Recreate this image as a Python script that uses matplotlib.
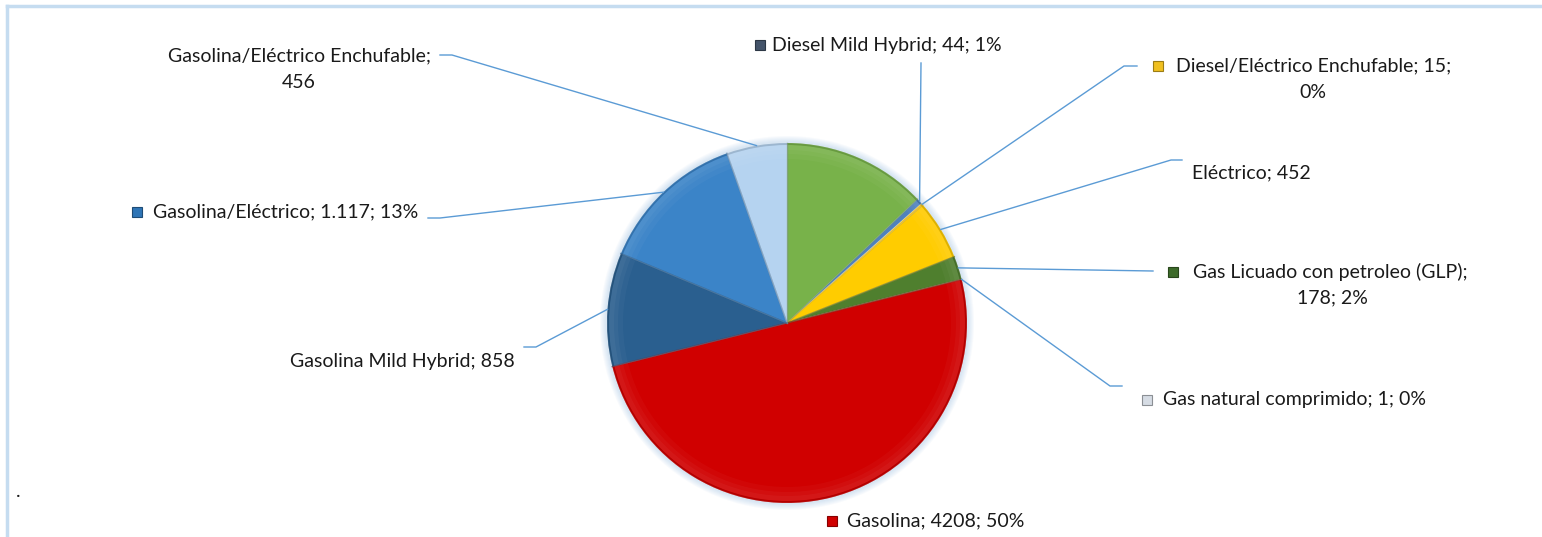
import numpy as np
import matplotlib
matplotlib.use("Agg")
import matplotlib.pyplot as plt
from matplotlib.patches import Wedge, Circle
from matplotlib.colors import to_rgb

# datos (sentido horario desde arriba)
categories = ['Diésel', 'Diesel Mild Hybrid', 'Diesel/Eléctrico Enchufable', 'Eléctrico',
              'Gas Licuado con petroleo (GLP)', 'Gas natural comprimido', 'Gasolina',
              'Gasolina Mild Hybrid', 'Gasolina/Eléctrico', 'Gasolina/Eléctrico Enchufable']
values = [1087, 44, 15, 452, 178, 1, 4208, 858, 1117, 456]
label_texts = ['', 'Diesel Mild Hybrid; 44; 1%', 'Diesel/Eléctrico Enchufable; 15;\n0%',
               'Eléctrico; 452', 'Gas Licuado con petroleo (GLP);\n178; 2%',
               'Gas natural comprimido; 1; 0%', 'Gasolina; 4208; 50%',
               'Gasolina Mild Hybrid; 858', 'Gasolina/Eléctrico; 1.117; 13%',
               'Gasolina/Eléctrico Enchufable;\n456']

slice_colors = ['#78b24a', '#4f81bd', '#f0c020', '#ffcc00', '#4f7f2e', '#b4c7dc',
                '#d00000', '#2a5f8f', '#3b84c8', '#b5d3f0']
key_colors = [None, '#44546a', '#f0c020', None, '#3d6b2a', '#d6dce4', '#d00000',
              None, '#2e75b6', None]

# layout en pixeles: (x, y, ha) de cada linea, posicion del cuadro de leyenda y puntos del conector
label_lines = [
    [],
    [(772, 45, 'left')],
    [(1176, 66, 'left'), (1313, 92, 'center')],
    [(1192, 173, 'left')],
    [(1193, 272, 'left'), (1332, 298, 'center')],
    [(1163, 400, 'left')],
    [(847, 521, 'left')],
    [(515, 361, 'right')],
    [(153, 212, 'left')],
    [(299, 56, 'center'), (299, 82, 'center')],
]
key_pos = [None, (760, 45), (1158, 66), None, (1173, 272), (1147, 400), (832, 521),
           None, (137, 212), None]
leaders = [None, [(921, 63)], [(1137, 66), (1124, 66)], [(1182, 160), (1171, 160)],
           [(1153, 271)], [(1122, 386), (1110, 386)], None,
           [(524, 347), (536, 347)], [(428, 218), (440, 218)], [(440, 55), (452, 55)]]

cx, cy, R = 787, 323, 180
line_col = '#5b9bd5'
fsize = 14
plt.rcParams['font.family'] = ['Lato', 'DejaVu Sans']


def shade(c, f):
    r, g, b = to_rgb(c)
    if f < 0:
        return (r * (1 + f), g * (1 + f), b * (1 + f))
    return (r + (1 - r) * f, g + (1 - g) * f, b + (1 - b) * f)


fig = plt.figure(figsize=(15.42, 5.37), dpi=100)
ax = fig.add_axes([0, 0, 1, 1])

# halo alrededor del pastel
for k in range(7, 0, -1):
    ax.add_patch(Circle((cx, cy), R + k, color='#9dc3e6', alpha=0.07, lw=0, zorder=1))

wedges, _ = ax.pie(values, colors=slice_colors, startangle=-90, counterclock=True,
                   radius=R, center=(cx, cy), frame=True,
                   wedgeprops=dict(edgecolor=(1, 1, 1, 0.2), linewidth=0.8))
for w in wedges:
    w.set_zorder(2)

# efecto bisel (suave)
for w, c in zip(wedges, slice_colors):
    for k, a in ((14, 0.10), (9, 0.12), (5, 0.14)):
        ax.add_patch(Wedge((cx, cy), R - 2, w.theta1, w.theta2, width=k,
                           facecolor=shade(c, 0.3), edgecolor='none', alpha=a, zorder=3))
    ax.add_patch(Wedge((cx, cy), R, w.theta1, w.theta2, width=2,
                       facecolor=shade(c, -0.3), edgecolor='none', alpha=0.45, zorder=3))
    if w.theta2 - w.theta1 > 3:
        for t in (w.theta1, w.theta2):
            a = np.deg2rad(t)
            ax.plot([cx, cx + R * np.cos(a)], [cy, cy + R * np.sin(a)],
                    color=shade(c, -0.25), lw=1.0, alpha=0.4, zorder=3)

# etiquetas, cuadros y conectores
for i, w in enumerate(wedges):
    parts = label_texts[i].split('\n') if label_texts[i] else []
    for txt, (x, y, ha) in zip(parts, label_lines[i]):
        ax.text(x, y, txt, ha=ha, va='center', fontsize=fsize, color='#1a1a1a', zorder=5)
    if key_colors[i] is not None:
        kx, ky = key_pos[i]
        ax.plot(kx, ky, marker='s', ms=7, mfc=key_colors[i],
                mec=shade(key_colors[i], -0.35), mew=0.8, zorder=5)
    if leaders[i] is not None:
        a = np.deg2rad((w.theta1 + w.theta2) / 2)
        pts = leaders[i] + [(cx + R * np.cos(a), cy + R * np.sin(a))]
        xs, ys = zip(*pts)
        ax.plot(xs, ys, color=line_col, lw=1, zorder=4)

# marco del grafico
ax.plot([7, 7], [6, 537], color='#c5dcf0', lw=2.5, zorder=0)
ax.plot([7, 1542], [6, 6], color='#c5dcf0', lw=2.5, zorder=0)
ax.text(16, 497, '.', ha='left', va='baseline', fontsize=fsize, color='#1a1a1a')

ax.set_xlim(0, 1542)
ax.set_ylim(537, 0)
ax.set_aspect('auto')
ax.axis('off')

fig.savefig('out.png', dpi=100, facecolor='white')
